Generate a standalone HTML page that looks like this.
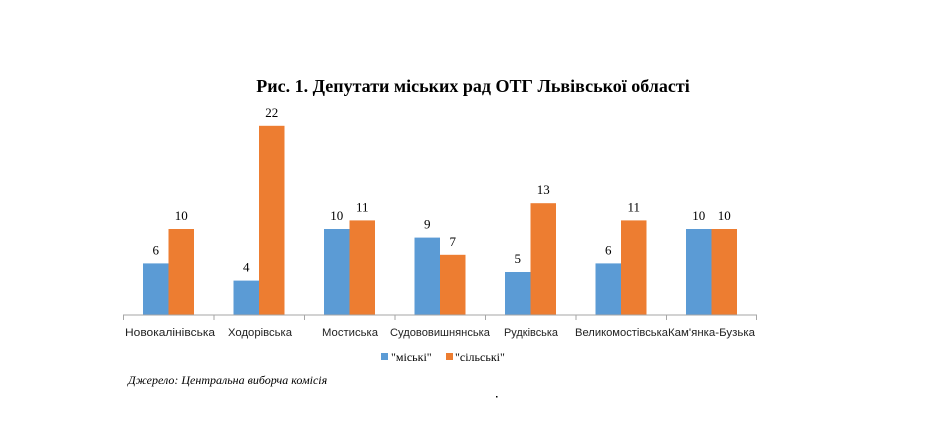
<!DOCTYPE html>
<html><head><meta charset="utf-8"><style>
html,body{margin:0;padding:0;background:#fff;}
svg{display:block;}
.v{font-family:"Liberation Serif",serif;font-size:13px;text-anchor:middle;}
</style></head><body>
<svg width="946" height="446" viewBox="0 0 946 446" xmlns="http://www.w3.org/2000/svg">
<text x="473" y="92" text-anchor="middle" font-family="Liberation Serif, serif" font-weight="bold" font-size="18">Рис. 1. Депутати міських рад ОТГ Львівської області</text>
<g fill="#5b9bd5">
<rect x="143" y="263.4" width="25.5" height="51.6"/>
<rect x="233.5" y="280.6" width="25.5" height="34.4"/>
<rect x="324" y="229" width="25.5" height="86"/>
<rect x="414.5" y="237.6" width="25.5" height="77.4"/>
<rect x="505" y="272" width="25.5" height="43"/>
<rect x="595.5" y="263.4" width="25.5" height="51.6"/>
<rect x="686" y="229" width="25.5" height="86"/>
</g>
<g fill="#ed7d31">
<rect x="168.5" y="229" width="25.5" height="86"/>
<rect x="259" y="125.8" width="25.5" height="189.2"/>
<rect x="349.5" y="220.4" width="25.5" height="94.6"/>
<rect x="440" y="254.8" width="25.5" height="60.2"/>
<rect x="530.5" y="203.2" width="25.5" height="111.8"/>
<rect x="621" y="220.4" width="25.5" height="94.6"/>
<rect x="711.5" y="229" width="25.5" height="86"/>
</g>
<g class="v">
<text x="155.75" y="254.4">6</text><text x="181.25" y="220">10</text>
<text x="246.25" y="271.6">4</text><text x="271.75" y="116.8">22</text>
<text x="336.75" y="220">10</text><text x="362.25" y="211.4">11</text>
<text x="427.25" y="228.6">9</text><text x="452.75" y="245.8">7</text>
<text x="517.75" y="263">5</text><text x="543.25" y="194.2">13</text>
<text x="608.25" y="254.4">6</text><text x="633.75" y="211.4">11</text>
<text x="698.75" y="220">10</text><text x="724.25" y="220">10</text>
</g>
<line x1="123" y1="315" x2="757" y2="315" stroke="#a6a6a6" stroke-width="1"/>
<g stroke="#a6a6a6" stroke-width="1">
<line x1="123.5" y1="315" x2="123.5" y2="320"/><line x1="214" y1="315" x2="214" y2="320"/><line x1="304.5" y1="315" x2="304.5" y2="320"/><line x1="395" y1="315" x2="395" y2="320"/><line x1="485.5" y1="315" x2="485.5" y2="320"/><line x1="576" y1="315" x2="576" y2="320"/><line x1="666.5" y1="315" x2="666.5" y2="320"/><line x1="756.5" y1="315" x2="756.5" y2="320"/>
</g>
<g font-family="Liberation Sans, sans-serif" font-size="11" fill="#222">
<text x="125" y="336" textLength="90" lengthAdjust="spacingAndGlyphs">Новокалінівська</text>
<text x="228" y="336" textLength="64" lengthAdjust="spacingAndGlyphs">Ходорівська</text>
<text x="322" y="336" textLength="56" lengthAdjust="spacingAndGlyphs">Мостиська</text>
<text x="390" y="336" textLength="100" lengthAdjust="spacingAndGlyphs">Судововишнянська</text>
<text x="504" y="336" textLength="54" lengthAdjust="spacingAndGlyphs">Рудківська</text>
<text x="575" y="336" textLength="93" lengthAdjust="spacingAndGlyphs">Великомостівська</text>
<text x="668" y="336" textLength="87" lengthAdjust="spacingAndGlyphs">Кам'янка-Бузька</text>
</g>
<rect x="381" y="353" width="7" height="7" fill="#5b9bd5"/>
<text x="391" y="361" style="font-family:'Liberation Serif',serif;font-size:12px">"міські"</text>
<rect x="446" y="353" width="7" height="7" fill="#ed7d31"/>
<text x="455" y="361" style="font-family:'Liberation Serif',serif;font-size:12px">"сільські"</text>
<text x="128" y="384" style="font-family:'Liberation Serif',serif;font-style:italic;font-size:12px">Джерело: Центральна виборча комісія</text>
<rect x="496" y="396" width="1.5" height="1.5" fill="#000"/>
</svg>
</body></html>
